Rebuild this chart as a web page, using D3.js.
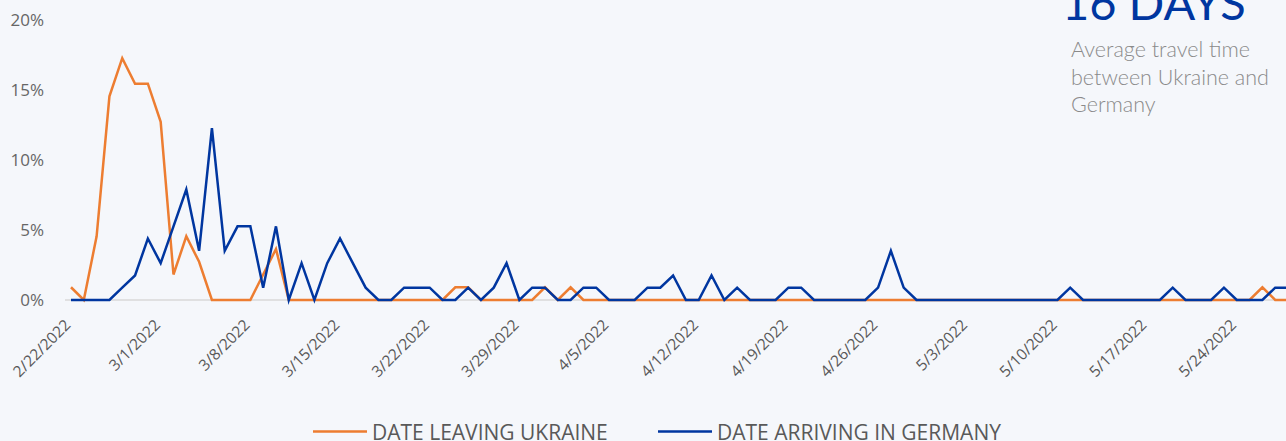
<!DOCTYPE html>
<html>
<head>
<meta charset="utf-8">
<script src="https://cdn.jsdelivr.net/npm/d3@7"></script>
<style>
  html, body { margin: 0; padding: 0; background: #f5f7fb; overflow: hidden; }
  svg { display: block; }
</style>
</head>
<body>
<svg id="chart"></svg>
<script>
// daily share of people (percent), starting 2/22/2022
let startDate = '2/22/2022'
let endDate = '5/28/2022'

let leaving = [
  0.91, 0, 4.55, 14.55, 17.27, 15.45, 15.45, 12.73, 1.82, 4.55,
  2.73, 0, 0, 0, 0, 1.82, 3.64, 0, 0, 0,
  0, 0, 0, 0, 0, 0, 0, 0, 0, 0,
  0.91, 0.91, 0, 0, 0, 0, 0, 0.91, 0, 0.91,
  0, 0, 0, 0, 0, 0, 0, 0, 0, 0,
  0, 0, 0, 0, 0, 0, 0, 0, 0, 0,
  0, 0, 0, 0, 0, 0, 0, 0, 0, 0,
  0, 0, 0, 0, 0, 0, 0, 0, 0, 0,
  0, 0, 0, 0, 0, 0, 0, 0, 0, 0,
  0, 0, 0, 0.91, 0, 0
]

let arriving = [
  0, 0, 0, 0, 0.88, 1.75, 4.39, 2.63, 5.26, 7.89,
  3.51, 12.28, 3.51, 5.26, 5.26, 0.88, 5.26, 0, 2.63, 0,
  2.63, 4.39, 2.63, 0.88, 0, 0, 0.88, 0.88, 0.88, 0,
  0, 0.88, 0, 0.88, 2.63, 0, 0.88, 0.88, 0, 0,
  0.88, 0.88, 0, 0, 0, 0.88, 0.88, 1.75, 0, 0,
  1.75, 0, 0.88, 0, 0, 0, 0.88, 0.88, 0, 0,
  0, 0, 0, 0.88, 3.51, 0.88, 0, 0, 0, 0,
  0, 0, 0, 0, 0, 0, 0, 0, 0.88, 0,
  0, 0, 0, 0, 0, 0, 0.88, 0, 0, 0,
  0.88, 0, 0, 0, 0.88, 0.88
]

let xTickLabels = ['2/22/2022', '3/1/2022', '3/8/2022', '3/15/2022', '3/22/2022', '3/29/2022', '4/5/2022',
  '4/12/2022', '4/19/2022', '4/26/2022', '5/3/2022', '5/10/2022', '5/17/2022', '5/24/2022']
let yTicks = [0, 5, 10, 15, 20]

let seriesNames = ['DATE LEAVING UKRAINE', 'DATE ARRIVING IN GERMANY']
let seriesColors = ['#ed7d31', '#0036a0']

let width = 1286
let height = 441

let parseDate = d3.timeParse('%m/%d/%Y')
let fmtDate = d => (d.getMonth() + 1) + '/' + d.getDate() + '/' + d.getFullYear()

let start = parseDate(startDate)
let dates = leaving.map((v, i) => d3.timeDay.offset(start, i))

let svg = d3.select('#chart')
  .attr('width', width)
  .attr('height', height)

let xScale = d3.scaleTime()
  .domain([start, parseDate(endDate)])
  .range([71, 1288])

let yScale = d3.scaleLinear()
  .domain([0, 20])
  .range([300, 20])

// baseline
svg.append('line')
  .attr('x1', 65).attr('x2', width)
  .attr('y1', yScale(0)).attr('y2', yScale(0))
  .attr('stroke', '#d9d9d9')
  .attr('stroke-width', 1.5)

// y axis
let yAxis = d3.axisLeft(yScale)
  .tickValues(yTicks)
  .tickSize(0)
  .tickPadding(0)
  .tickFormat(d => d + '%')
let gy = svg.append('g')
  .attr('transform', 'translate(44, 0)')
  .call(yAxis)
gy.select('.domain').remove()
gy.selectAll('text')
  .attr('font-family', 'Open Sans, sans-serif')
  .attr('font-size', 17)
  .attr('fill', '#666666')

// x axis
let xAxis = d3.axisBottom(xScale)
  .tickValues(xTickLabels.map(parseDate))
  .tickSize(0)
  .tickFormat(fmtDate)
let gx = svg.append('g')
  .attr('transform', 'translate(0, 300)')
  .call(xAxis)
gx.select('.domain').remove()
gx.selectAll('text')
  .attr('font-family', 'Open Sans, sans-serif')
  .attr('font-size', 15.5)
  .attr('fill', '#595959')
  .attr('text-anchor', 'end')
  .attr('dy', 0)
  .attr('y', 0)
  .attr('transform', 'translate(0, 26) rotate(-45)')

// lines
let line = d3.line()
  .x((d, i) => xScale(dates[i]))
  .y(d => yScale(d))

let allSeries = [leaving, arriving]
svg.selectAll('.series')
  .data(allSeries)
  .enter()
  .append('path')
  .attr('class', 'series')
  .attr('d', d => line(d))
  .attr('fill', 'none')
  .attr('stroke', (d, i) => seriesColors[i])
  .attr('stroke-width', 2.5)
  .attr('stroke-linejoin', 'miter')

// callout
svg.append('text')
  .attr('x', 1062)
  .attr('y', 20)
  .attr('font-family', 'Lato, sans-serif')
  .attr('font-weight', 400)
  .attr('font-size', 47)
  .attr('fill', '#0036a0')
  .text('16 DAYS')

let notes = ['Average travel time', 'between Ukraine and', 'Germany']
svg.append('g')
  .selectAll('text')
  .data(notes)
  .enter()
  .append('text')
  .attr('x', 1071)
  .attr('y', (d, i) => 57 + i * 27.5)
  .attr('font-family', 'Lato, sans-serif')
  .attr('font-weight', 300)
  .attr('font-size', 21.5)
  .attr('fill', '#8a8a8a')
  .text(d => d)

// legend
let legendX = [313, 658]
let legend = svg.selectAll('.legend')
  .data(seriesNames)
  .enter()
  .append('g')
  .attr('class', 'legend')
  .attr('transform', (d, i) => `translate(${legendX[i]}, 431.5)`)
legend.append('line')
  .attr('x1', 0).attr('x2', 54)
  .attr('stroke', (d, i) => seriesColors[i])
  .attr('stroke-width', 2.5)
legend.append('text')
  .attr('x', 59)
  .attr('y', 8)
  .attr('font-family', 'Open Sans, sans-serif')
  .attr('font-size', 21)
  .attr('fill', '#595959')
  .text(d => d)
</script>
</body>
</html>
